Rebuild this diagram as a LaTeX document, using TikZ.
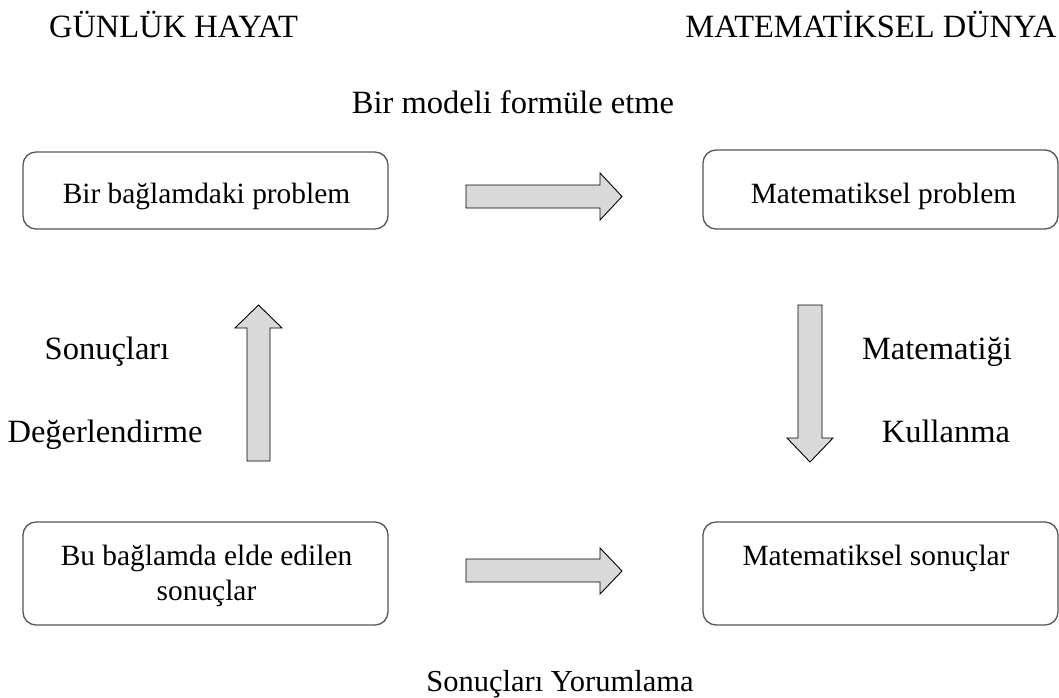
\documentclass[tikz,border=0pt]{standalone}
\usepackage{fontspec}
\setmainfont{Liberation Serif}
\definecolor{arrowfill}{HTML}{D9D9D9}
\definecolor{boxline}{HTML}{555555}
\tikzset{
  stagebox/.style={draw=boxline, line width=1.3pt, rounded corners=13pt, fill=white, inner sep=0pt},
  blockarrow/.style={draw=black, line width=0.9pt, fill=arrowfill, line join=miter},
  lbl/.style={anchor=base, inner sep=0pt, font=\fontsize{32.5}{38}\selectfont},
  boxtxt/.style={anchor=base, inner sep=0pt, font=\fontsize{29.4}{35}\selectfont},
}
\begin{document}
\begin{tikzpicture}[x=1pt,y=-1pt]
\useasboundingbox (0,0) rectangle (1059,697);
% boxes
\node[stagebox, minimum width=365pt, minimum height=77pt] (b1) at (205.5,190.5) {};
\node[stagebox, minimum width=355pt, minimum height=79pt] (b2) at (880.5,189.5) {};
\node[stagebox, minimum width=365pt, minimum height=103pt] (b3) at (205.5,573.5) {};
\node[stagebox, minimum width=355pt, minimum height=103pt] (b4) at (880.5,573.5) {};
% box texts
\node[boxtxt] (t1) at (206.5,203) {Bir bağlamdaki problem};
\node[boxtxt] (t2) at (883.5,203) {Matematiksel problem};
\node[boxtxt] (t3a) at (206.5,565) {Bu bağlamda elde edilen};
\node[boxtxt] (t3b) at (206.5,600) {sonuçlar};
\node[boxtxt] (t4) at (876,565) {Matematiksel sonuçlar};
% headings and labels
\node[lbl] (h1) at (173.5,37) {GÜNLÜK HAYAT};
\node[lbl] (h2) at (871,37) {MATEMATİKSEL DÜNYA};
\node[lbl] (l1) at (513,113) {Bir modeli formüle etme};
\node[lbl] (l2a) at (107,359) {Sonuçları};
\node[lbl] (l2b) at (105,442) {Değerlendirme};
\node[lbl] (l3a) at (937,359) {Matematiği};
\node[lbl] (l3b) at (946,442) {Kullanma};
\node[lbl, font=\fontsize{30.5}{36}\selectfont] (l4) at (560,691) {Sonuçları Yorumlama};
% block arrows
\draw[blockarrow] (466,185) -- (600,185) -- (600,173) -- (622,196.5) -- (600,220) -- (600,208) -- (466,208) -- cycle;
\draw[blockarrow] (466,559) -- (600,559) -- (600,548) -- (622,571) -- (600,594) -- (600,582) -- (466,582) -- cycle;
\draw[blockarrow] (247,461) -- (247,328) -- (235,328) -- (258.5,305) -- (282,328) -- (270,328) -- (270,461) -- cycle;
\draw[blockarrow] (798,305) -- (798,438) -- (787,438) -- (810,462) -- (833,438) -- (822,438) -- (822,305) -- cycle;
\end{tikzpicture}
\end{document}
